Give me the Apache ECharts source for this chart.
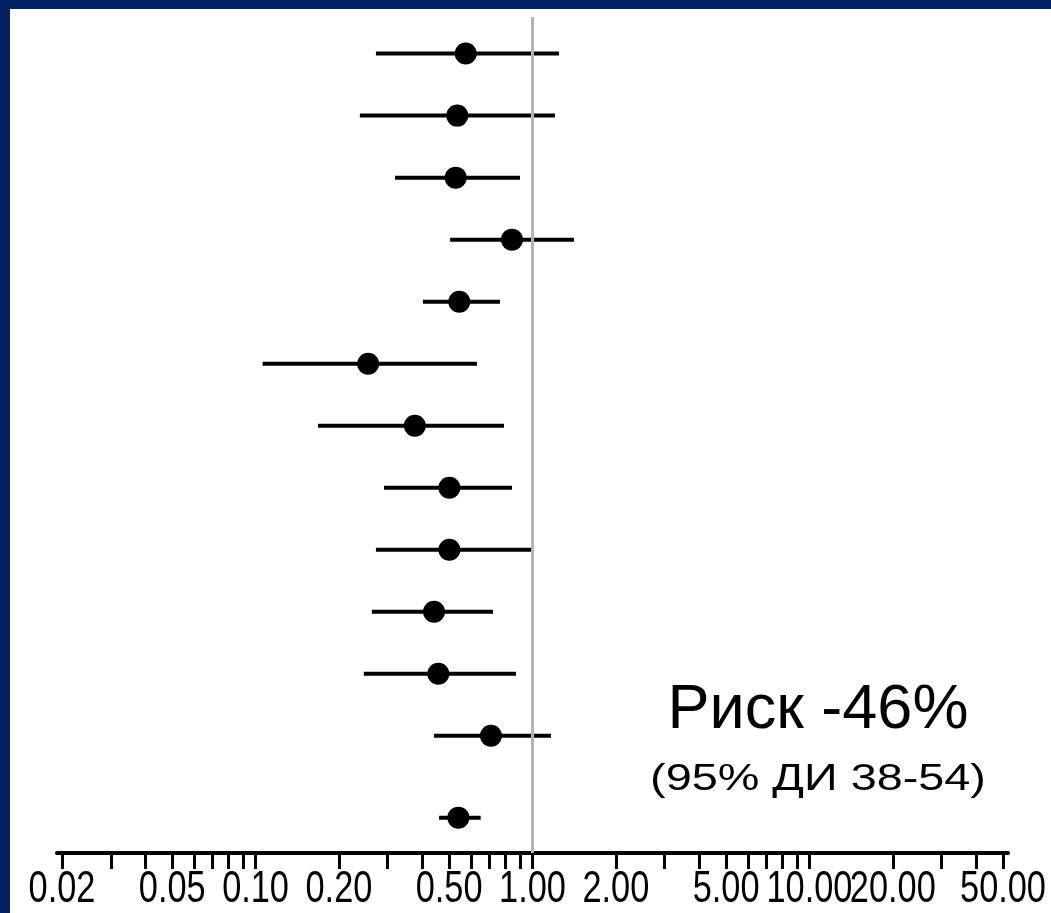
<!DOCTYPE html>
<html><head><meta charset="utf-8">
<script src="https://cdn.jsdelivr.net/npm/echarts@6/dist/echarts.min.js"></script>
<style>html,body{margin:0;padding:0;background:#fff}#c{width:1051px;height:913px}</style>
</head><body><div id="c"></div>
<script>
// Data (risk ratios with 95% CI)
const estimates = [0.574, 0.535, 0.528, 0.843, 0.544, 0.255, 0.376, 0.501, 0.501, 0.441, 0.457, 0.708, 0.54];
const lowerCI   = [0.272, 0.238, 0.319, 0.504, 0.402, 0.106, 0.168, 0.291, 0.272, 0.263, 0.246, 0.441, 0.46];
const upperCI   = [1.246, 1.206, 0.901, 1.412, 0.763, 0.630, 0.789, 0.843, 1.00, 0.720, 0.872, 1.166, 0.65];
const rowPositions = [1, 2, 3, 4, 5, 6, 7, 8, 9, 10, 11, 12, 13.32];
const tickLabels = [0.02, 0.05, 0.1, 0.2, 0.5, 1, 2, 5, 10, 20, 50];
const tickMarks = [0.02, 0.03, 0.04, 0.05, 0.06, 0.07, 0.08, 0.09, 0.1, 0.2, 0.3, 0.4, 0.5, 0.6, 0.7, 0.8, 0.9, 1, 2, 3, 4, 5, 6, 7, 8, 9, 10, 20, 30, 40, 50];
const refValue = 1;
const riskTitle = 'Риск -46%';
const riskCI = '(95% ДИ 38-54)';

const lg = v => Math.log10(v);
const Y_MIN = 0.41, Y_MAX = 13.89;
const ciData = rowPositions.map((y, i) => [lg(lowerCI[i]), lg(upperCI[i]), y]);
const ptData = rowPositions.map((y, i) => [lg(estimates[i]), y]);
const labelData = tickLabels.map(v => [lg(v), Y_MAX]);

const chart = echarts.init(document.getElementById('c'), null, {renderer: 'canvas'});
chart.setOption({
  backgroundColor: '#ffffff',
  animation: false,
  grid: {left: 57, right: 43, top: 17, bottom: 60},
  xAxis: {
    type: 'value',
    min: -1.717, max: 1.717,
    splitLine: {show: false},
    axisLine: {show: true, onZero: false, lineStyle: {color: '#000', width: 4}},
    axisTick: {show: true, length: 16, customValues: tickMarks.map(lg), lineStyle: {color: '#000', width: 3}},
    axisLabel: {show: false}
  },
  yAxis: {type: 'value', inverse: true, min: Y_MIN, max: Y_MAX, show: false},
  graphic: [
    {type: 'rect', shape: {x: 0, y: 0, width: 1051, height: 9}, style: {fill: '#002060'}, z: 100},
    {type: 'rect', shape: {x: 0, y: 0, width: 10, height: 913}, style: {fill: '#002060'}, z: 100},
    {type: 'text', x: 818, y: 711, style: {text: riskTitle, fill: '#000', font: "63px 'Liberation Sans', Arial, sans-serif", align: 'center', verticalAlign: 'middle'}},
    {type: 'text', x: 818, y: 780, scaleX: 1.3, style: {text: riskCI, fill: '#000', font: "36px 'Liberation Sans', Arial, sans-serif", align: 'center', verticalAlign: 'middle'}}
  ],
  series: [
    {
      type: 'line', data: [], z: 1, silent: true,
      markLine: {
        silent: true, symbol: 'none', label: {show: false},
        lineStyle: {color: '#b4b4b4', width: 3, type: 'solid'},
        data: [{xAxis: lg(refValue)}]
      }
    },
    {
      type: 'custom', z: 3, silent: true,
      data: ciData,
      renderItem: (params, api) => {
        const a = api.coord([api.value(0), api.value(2)]);
        const b = api.coord([api.value(1), api.value(2)]);
        return {type: 'line', shape: {x1: a[0], y1: a[1], x2: b[0], y2: b[1]}, style: {stroke: '#000', lineWidth: 4}};
      }
    },
    {
      type: 'scatter', z: 4, silent: true,
      symbol: 'circle', symbolSize: 22,
      itemStyle: {color: '#000', opacity: 1},
      data: ptData
    },
    {
      // tick labels of the log axis, placed through the axis scale (narrow, tall digits)
      type: 'custom', z: 5, silent: true, clip: false,
      data: labelData,
      renderItem: (params, api) => {
        const p = api.coord([api.value(0), api.value(1)]);
        return {
          type: 'text', x: p[0], y: p[1] + 37, scaleX: 0.78,
          style: {
            text: Math.pow(10, api.value(0)).toFixed(2),
            fill: '#000', font: "44px 'Liberation Sans', Arial, sans-serif",
            align: 'center', verticalAlign: 'middle'
          }
        };
      }
    }
  ]
});
</script></body></html>
